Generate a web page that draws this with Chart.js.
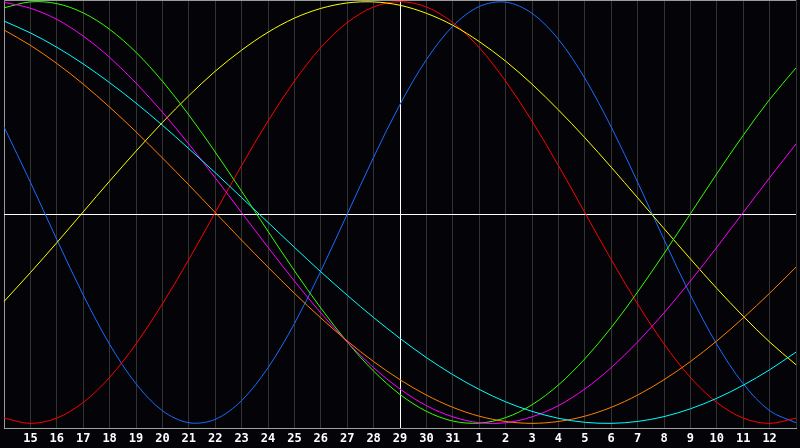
<!DOCTYPE html>
<html lang="en">
<head>
    <meta charset="UTF-8">
    <title>Biorhythm</title>
    <script src="https://cdn.jsdelivr.net/npm/chart.js"></script>
    <style>
        html, body { margin: 0; padding: 0; background: #040408; }
        .wrap { width: 800px; height: 448px; }
    </style>
</head>
<body>
    <div class="wrap"><canvas id="bioChart"></canvas></div>

    <script>
        // day labels (first and last slot are the frame edges)
        const days = ['', '15', '16', '17', '18', '19', '20', '21', '22', '23', '24', '25', '26', '27', '28',
            '29', '30', '31', '1', '2', '3', '4', '5', '6', '7', '8', '9', '10', '11', '12', ''];

        // cycle values, one per day slot
        const physical     = [40.6, 14.4, -12.8, -39.1, -62.5, -81.2, -94.0, -99.7, -98.1, -89.2, -73.6, -52.7, -27.8, -0.8, 26.2, 51.3, 72.5, 88.4, 97.7, 99.8, 94.5, 82.2, 63.7, 40.6, 14.4, -12.8, -39.1, -62.5, -81.2, -94.0, -99.7];
        const emotional    = [-97.5, -100, -97.5, -90.1, -78.2, -62.3, -43.4, -22.3, 0, 22.3, 43.4, 62.3, 78.2, 90.1, 97.5, 100, 97.5, 90.1, 78.2, 62.3, 43.4, 22.3, 0, -22.3, -43.4, -62.3, -78.2, -90.1, -97.5, -100, -97.5];
        const intellectual = [97.1, 99.9, 99.1, 94.7, 86.9, 76.0, 62.3, 46.3, 28.7, 10.1, -8.9, -27.6, -45.3, -61.4, -75.2, -86.3, -94.3, -98.9, -99.9, -97.3, -91.2, -81.8, -69.4, -54.6, -37.7, -19.5, -0.6, 18.4, 36.6, 53.6, 68.6];
        const intuitive    = [99.7, 96.9, 91.6, 83.7, 73.6, 61.4, 47.6, 32.5, 16.5, 0, -16.5, -32.5, -47.6, -61.4, -73.6, -83.7, -91.6, -96.9, -99.7, -99.7, -96.9, -91.6, -83.7, -73.6, -61.4, -47.6, -32.5, -16.5, 0, 16.5, 32.5];
        const aesthetic    = [-42.2, -28.5, -14.3, 0.3, 14.9, 29.1, 42.7, 55.4, 67.0, 77.0, 85.5, 92.2, 96.8, 99.4, 99.9, 98.3, 94.5, 88.8, 81.1, 71.8, 60.9, 48.7, 35.5, 21.5, 7.0, -7.6, -22.0, -36.0, -49.2, -61.4, -72.2];
        const awareness    = [86.6, 79.3, 70.7, 60.9, 50, 38.3, 25.9, 13.1, 0, -13.1, -25.9, -38.3, -50, -60.9, -70.7, -79.3, -86.6, -92.4, -96.6, -99.1, -100, -99.1, -96.6, -92.4, -86.6, -79.3, -70.7, -60.9, -50, -38.3, -25.9];
        const spiritual    = [90.8, 85.2, 78.4, 70.5, 61.6, 51.9, 41.4, 30.3, 18.9, 7.1, -4.7, -16.5, -28.1, -39.2, -49.8, -59.7, -68.8, -76.9, -83.9, -89.8, -94.3, -97.6, -99.5, -100, -99.1, -96.8, -93.1, -88.1, -81.9, -74.6, -66.2];

        const todayIndex = 15;

        function series(label, data, color) {
            return {
                label: label,
                data: data,
                borderColor: color,
                borderWidth: 1,
                pointRadius: 0,
                tension: 0.33,
                fill: false
            };
        }

        // background, frame and the white cross at today / zero
        const framePlugin = {
            id: 'frame',
            beforeDraw(chart) {
                const c = chart.ctx;
                c.save();
                c.fillStyle = '#040408';
                c.fillRect(0, 0, chart.width, chart.height);
                c.restore();
            },
            beforeDatasetsDraw(chart) {
                const c = chart.ctx;
                const area = chart.chartArea;
                const y0 = Math.round(chart.scales.y.getPixelForValue(0)) + 1.5;
                c.save();
                c.lineWidth = 1;
                c.strokeStyle = '#9a9a9a';
                c.beginPath();
                c.moveTo(area.left + 0.5, area.bottom);
                c.lineTo(area.left + 0.5, area.top + 0.5);
                c.lineTo(area.right, area.top + 0.5);
                c.stroke();
                c.strokeStyle = '#ffffff';
                c.beginPath();
                c.moveTo(area.left, y0);
                c.lineTo(area.right, y0);
                c.stroke();
                c.restore();
            }
        };

        const ctx = document.getElementById('bioChart').getContext('2d');
        const bioChart = new Chart(ctx, {
            type: 'line',
            data: {
                labels: days,
                datasets: [
                    series('Spiritual', spiritual, '#00ffff'),
                    series('Awareness', awareness, '#ff8000'),
                    series('Intuitive', intuitive, '#ff00ff'),
                    series('Intellectual', intellectual, '#33ff00'),
                    series('Aesthetic', aesthetic, '#ffff00'),
                    series('Emotional', emotional, '#ff0000'),
                    series('Physical', physical, '#1a6cff')
                ]
            },
            options: {
                responsive: true,
                maintainAspectRatio: false,
                animation: false,
                layout: { padding: 0 },
                plugins: {
                    legend: { display: false },
                    tooltip: { enabled: false }
                },
                scales: {
                    x: {
                        offset: false,
                        grid: {
                            color: (c) => c.index === todayIndex ? '#ffffff' : '#333333',
                            lineWidth: 1,
                            drawTicks: false
                        },
                        border: { color: '#a0a0a0' },
                        ticks: {
                            color: '#ffffff',
                            autoSkip: false,
                            maxRotation: 0,
                            padding: 4,
                            font: { family: 'DejaVu Sans Mono', size: 12, weight: 'bold' }
                        },
                        afterFit: (scale) => { scale.height = 20; }
                    },
                    y: {
                        display: false,
                        min: -102.2,
                        max: 100.8
                    }
                }
            },
            plugins: [framePlugin]
        });
    </script>
</body>
</html>
